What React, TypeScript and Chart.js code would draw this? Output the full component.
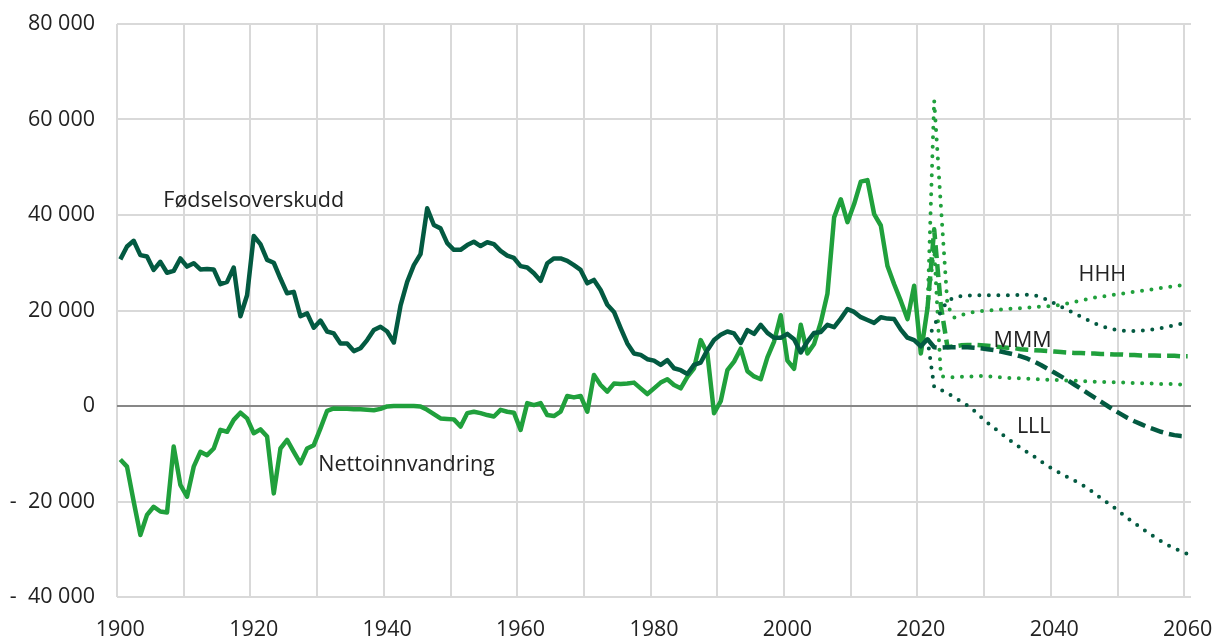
import React, { useEffect, useRef } from 'react';
import { Chart, registerables } from 'chart.js';

Chart.register(...registerables);

// ---- Data ----
const HIST_START = 1900;
const PROJ_START = 2021;

// Fødselsoverskudd (natural increase), 1900–2021
const fodselsoverskudd = [
  30700, 33400, 34600, 31600, 31300, 28500, 30200, 27900, 28300, 30900,
  29200, 29900, 28600, 28700, 28600, 25500, 26000, 29000, 18800, 23200,
  35600, 33900, 30600, 30000, 26700, 23600, 23900, 18800, 19400, 16400,
  17900, 15600, 15200, 13100, 13100, 11500, 12100, 13800, 15900, 16600,
  15600, 13300, 21000, 26000, 29500, 31800, 41400, 37900, 37200, 34100,
  32700, 32700, 33700, 34400, 33500, 34300, 33900, 32500, 31500, 31000,
  29300, 29000, 27800, 26200, 29900, 30900, 30900, 30400, 29500, 28500,
  25700, 26400, 24300, 21200, 19700, 16300, 13100, 11000, 10700, 9800,
  9500, 8600, 9600, 7900, 7500, 6700, 8600, 9100, 11700, 13800,
  14900, 15600, 15200, 13200, 15900, 15100, 17000, 15300, 14300, 14300,
  15100, 14000, 11200, 13500, 15300, 15500, 17000, 16500, 18300, 20300,
  19700, 18600, 18000, 17400, 18600, 18300, 18200, 16000, 14300, 13800,
  12500, 14000,
];

// Nettoinnvandring (net immigration), 1900–2021
const nettoinnvandring = [
  -11200, -12700, -20000, -27000, -22800, -21100, -22100, -22300, -8500, -16500,
  -19000, -12700, -9600, -10300, -8900, -5000, -5400, -2900, -1400, -2600,
  -5700, -4900, -6400, -18300, -8900, -7100, -9600, -12000, -8900, -8200,
  -4700, -1000, -500, -600, -600, -700, -700, -800, -900, -600,
  -100, 0, 0, 0, 0, -100, -800, -1700, -2600, -2700,
  -2800, -4300, -1500, -1200, -1500, -1900, -2200, -800, -1200, -1400,
  -5000, 600, 200, 600, -1900, -2100, -1200, 2100, 1800, 2100,
  -1200, 6500, 4400, 3000, 4700, 4600, 4700, 4900, 3700, 2500,
  3700, 4900, 5600, 4400, 3700, 6100, 7900, 13800, 11000, -1500,
  1000, 7500, 9300, 12000, 7300, 6200, 5600, 10200, 13500, 19000,
  9500, 7800, 17000, 11000, 13000, 17500, 23500, 39500, 43300, 38500,
  42300, 47000, 47300, 40200, 37800, 29300, 25500, 22000, 18200, 25200,
  11000, 20500,
];

// Projections 2021–2060
const fodselHHH = [
  14000, 16800, 19800, 22000, 22700, 23000, 23100, 23200, 23200, 23200,
  23200, 23200, 23200, 23200, 23300, 23300, 23200, 22800, 22200, 21500,
  20800, 20100, 19400, 18700, 18000, 17300, 16800, 16300, 16000, 15800,
  15700, 15700, 15800, 15900, 16100, 16300, 16600, 16900, 17200, 17500,
];
const fodselMMM = [
  14000, 12300, 12200, 12300, 12300, 12300, 12300, 12200, 12100, 11900,
  11700, 11400, 11100, 10800, 10400, 9900, 9300, 8600, 7800, 7000,
  6200, 5400, 4500, 3600, 2700, 1800, 900, 0, -900, -1700,
  -2500, -3200, -3800, -4400, -4900, -5400, -5800, -6100, -6300, -6400,
];
const fodselLLL = [
  14000, 4000, 3400, 2700, 1800, 1000, 100, -1000, -2300, -3500,
  -4600, -5700, -6800, -7800, -8800, -9700, -10600, -11600, -12500, -13400,
  -14100, -14900, -15600, -16400, -17200, -18300, -19300, -20300, -21300, -22400,
  -23500, -24500, -25500, -26500, -27400, -28300, -29100, -29800, -30400, -31000,
];
const nettoHHH = [
  20500, 64000, 42000, 21000, 18500, 19000, 19400, 19700, 19900, 20000,
  20100, 20200, 20300, 20400, 20500, 20600, 20700, 20800, 20900, 21000,
  21200, 21500, 21800, 22100, 22400, 22700, 22900, 23100, 23300, 23500,
  23700, 23900, 24100, 24300, 24500, 24700, 24900, 25100, 25300, 25500,
];
const nettoMMM = [
  20500, 37000, 21000, 12300, 12500, 12700, 12800, 12800, 12700, 12600,
  12500, 12300, 12200, 12100, 11900, 11800, 11700, 11600, 11500, 11400,
  11300, 11200, 11100, 11100, 11000, 11000, 10900, 10900, 10800, 10800,
  10700, 10700, 10600, 10600, 10600, 10500, 10500, 10500, 10400, 10400,
];
const nettoLLL = [
  20500, 33000, 6300, 6000, 6000, 6100, 6200, 6200, 6300, 6200,
  6100, 6000, 5900, 5800, 5800, 5700, 5600, 5600, 5500, 5500,
  5400, 5300, 5300, 5200, 5200, 5100, 5100, 5000, 5000, 4900,
  4900, 4800, 4800, 4700, 4700, 4600, 4600, 4600, 4500, 4500,
];

const xLabelYears = [1900, 1920, 1940, 1960, 1980, 2000, 2020, 2040, 2060];
const yTicks = [-40000, -20000, 0, 20000, 40000, 60000, 80000];

const seriesLabels = [
  { text: 'Fødselsoverskudd', x: 1906.44, y: 41600 },
  { text: 'Nettoinnvandring', x: 1929.68, y: -13700 },
  { text: 'HHH', x: 2043.64, y: 26200 },
  { text: 'MMM', x: 2030.9, y: 12400 },
  { text: 'LLL', x: 2034.4, y: -5700 },
];

// ---- Styling ----
const DARK = '#035A41';
const GREEN = '#20A03C';
const GRID = '#d9d9d9';
const ZERO = '#878787';
const TEXT = '#222222';
const FONT = '"Open Sans", "Noto Sans", sans-serif';
const FONT_SIZE = 21.5;
const CLEAR = 'rgba(0,0,0,0)';

const toPoints = (start: number, vals: number[]) =>
  vals.map((v, i) => ({ x: start + i, y: v }));

const fmt = (v: number) => {
  const abs = Math.abs(v);
  const s = abs === 0 ? '0' : String(abs).replace(/\B(?=(\d{3})+(?!\d))/g, ' ');
  return v < 0 ? '-  ' + s : s;
};

const labelPlugin = {
  id: 'seriesLabels',
  afterDatasetsDraw(chart: any) {
    const { ctx, scales } = chart;
    ctx.save();
    ctx.font = `${FONT_SIZE}px ${FONT}`;
    ctx.fillStyle = TEXT;
    ctx.textAlign = 'left';
    ctx.textBaseline = 'alphabetic';
    for (const l of seriesLabels) {
      ctx.fillText(l.text, scales.x.getPixelForValue(l.x), scales.y.getPixelForValue(l.y));
    }
    ctx.restore();
  },
};

export default function App() {
  const ref = useRef<HTMLCanvasElement | null>(null);

  useEffect(() => {
    if (!ref.current) return;
    const base = { pointRadius: 0, fill: false, tension: 0, borderJoinStyle: 'round' as const };
    const dotted = { borderWidth: 4, borderDash: [0, 9.5], borderCapStyle: 'round' as const };
    const dashed = { borderWidth: 4.5, borderDash: [13, 6], borderCapStyle: 'butt' as const };

    const chart = new Chart(ref.current, {
      type: 'line',
      data: {
        datasets: [
          { ...base, label: 'Fødselsoverskudd', data: toPoints(HIST_START, fodselsoverskudd), borderColor: DARK, borderWidth: 4.5, order: 0 },
          { ...base, label: 'Nettoinnvandring', data: toPoints(HIST_START, nettoinnvandring), borderColor: GREEN, borderWidth: 4.5, order: 1 },
          { ...base, ...dashed, label: 'Fødselsoverskudd MMM', data: toPoints(PROJ_START, fodselMMM), borderColor: DARK, order: 2 },
          { ...base, ...dotted, label: 'Fødselsoverskudd HHH', data: toPoints(PROJ_START, fodselHHH), borderColor: DARK, order: 3 },
          { ...base, ...dotted, label: 'Fødselsoverskudd LLL', data: toPoints(PROJ_START, fodselLLL), borderColor: DARK, order: 4 },
          { ...base, ...dashed, label: 'Nettoinnvandring MMM', data: toPoints(PROJ_START, nettoMMM), borderColor: GREEN, order: 5 },
          { ...base, ...dotted, label: 'Nettoinnvandring HHH', data: toPoints(PROJ_START, nettoHHH), borderColor: GREEN, order: 6 },
          { ...base, ...dotted, label: 'Nettoinnvandring LLL', data: toPoints(PROJ_START, nettoLLL), borderColor: GREEN, order: 7 },
        ],
      },
      options: {
        responsive: false,
        animation: false,
        events: [],
        layout: { padding: { left: 0, right: 23, top: 24, bottom: 0 } },
        plugins: { legend: { display: false }, tooltip: { enabled: false } },
        scales: {
          x: {
            type: 'linear',
            min: xLabelYears[0] - 0.5,
            max: xLabelYears[xLabelYears.length - 1] + 0.5,
            afterBuildTicks: (s: any) => {
              const t = [];
              for (let v = xLabelYears[0] - 0.5; v < xLabelYears[xLabelYears.length - 1]; v += 10) t.push({ value: v });
              s.ticks = t;
            },
            afterFit: (s: any) => { s.height = 42; },
            grid: { color: GRID, lineWidth: 2, drawTicks: true, tickLength: 20, tickColor: CLEAR },
            border: { display: false },
            ticks: {
              autoSkip: false,
              maxRotation: 0,
              padding: 0,
              labelOffset: 3.3,
              color: TEXT,
              font: { family: FONT, size: FONT_SIZE },
              callback: (v: any) => {
                const yr = Math.round(Number(v) + 0.5);
                return xLabelYears.includes(yr) ? String(yr) : '';
              },
            },
          },
          y: {
            type: 'linear',
            min: yTicks[0],
            max: yTicks[yTicks.length - 1],
            afterBuildTicks: (s: any) => { s.ticks = yTicks.map((v) => ({ value: v })); },
            afterFit: (s: any) => { s.width = 117; },
            grid: {
              color: (c: any) => (c.tick && c.tick.value === 0 ? ZERO : GRID),
              lineWidth: 2,
              drawTicks: true,
              tickLength: 22,
              tickColor: CLEAR,
            },
            border: { display: false },
            ticks: {
              padding: 0,
              color: TEXT,
              font: { family: FONT, size: FONT_SIZE },
              callback: (v: any) => fmt(Number(v)),
            },
          },
        },
      },
      plugins: [labelPlugin],
    });
    return () => chart.destroy();
  }, []);

  return (
    <div style={{ position: 'absolute', left: 0, top: 0, width: 1214, height: 639, background: '#fff' }}>
      <canvas ref={ref} width={1214} height={639} />
    </div>
  );
}
